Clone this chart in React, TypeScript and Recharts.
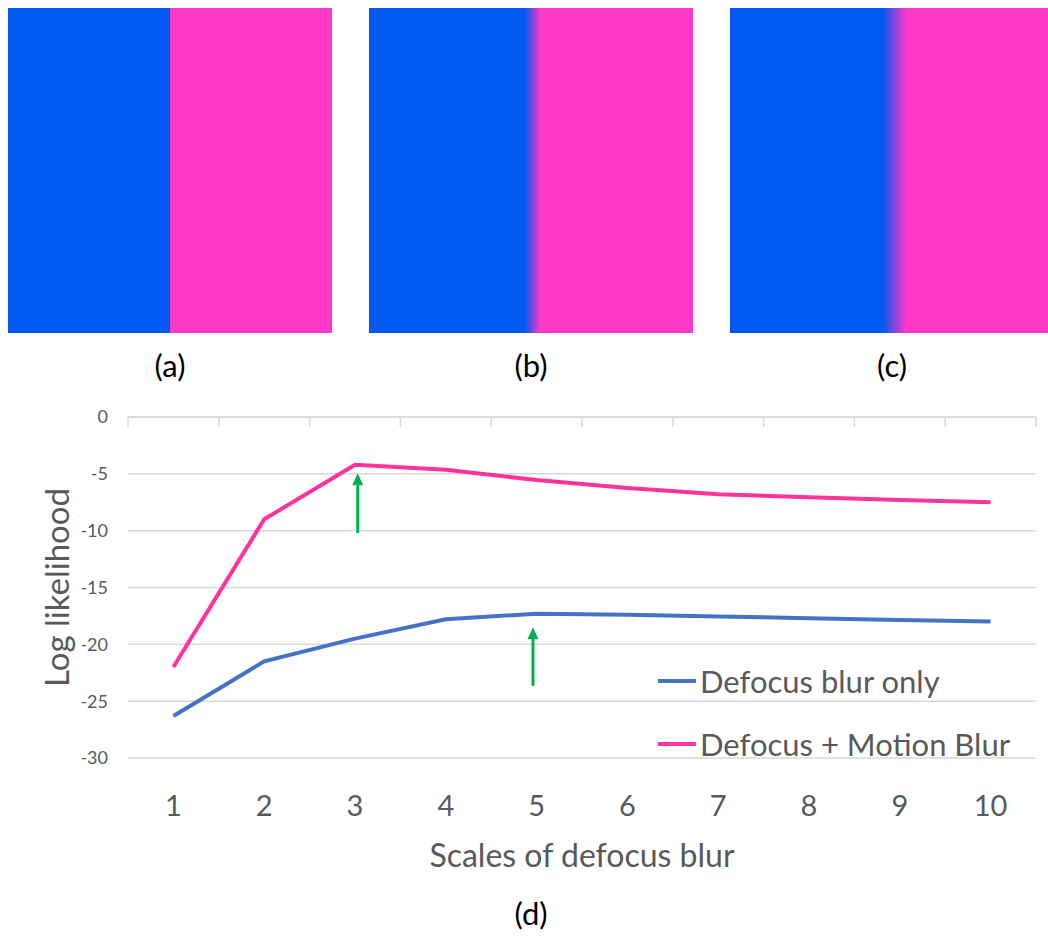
import React from 'react';
import { LineChart, Line, XAxis, YAxis, CartesianGrid, Legend, ReferenceLine } from 'recharts';

const scales = [1, 2, 3, 4, 5, 6, 7, 8, 9, 10];
const defocusOnly = [-26.3, -21.5, -19.5, -17.8, -17.3, -17.4, -17.55, -17.7, -17.85, -18.0];
const defocusMotion = [-22.0, -9.0, -4.2, -4.65, -5.55, -6.25, -6.8, -7.05, -7.3, -7.5];
const yTicks = [0, -5, -10, -15, -20, -25, -30];
// green arrows marking the peak of each curve (x, bottom, tip)
const arrows = [
  { x: 3.03, from: -10.2, to: -4.95 },
  { x: 4.96, from: -23.65, to: -18.5 },
];

const data = scales.map((s, i) => ({ x: s, only: defocusOnly[i], motion: defocusMotion[i] }));
// tick marks sit between the categories
const boundaries = [...scales.map(s => s - 0.5), scales[scales.length - 1] + 0.5];

const FONT = 'Lato, "Open Sans", sans-serif';
const GREY = '#595959';
const BLUE = '#0059F0';
const PINK = '#FF38C8';

const panels = [
  { left: 8, label: '(a)', bg: `linear-gradient(to right, ${BLUE} 50%, ${PINK} 50%)` },
  { left: 369, label: '(b)', bg: `linear-gradient(to right, ${BLUE} 48%, ${PINK} 53%)` },
  { left: 730, label: '(c)', bg: `linear-gradient(to right, ${BLUE} 47%, ${PINK} 54.5%)` },
];

const Arrow = (props: any) => {
  const { x1, y1, x2, y2 } = props;
  const head = 12;
  return (
    <g>
      <line x1={x1} y1={y1} x2={x2} y2={y2 + head - 1} stroke="#00B050" strokeWidth={3} />
      <polygon points={`${x2},${y2} ${x2 - 5.5},${y2 + head} ${x2 + 5.5},${y2 + head}`} fill="#00B050" />
    </g>
  );
};

const LegendContent = () => {
  const rows = [
    { name: 'Defocus blur only', color: '#4472C4' },
    { name: 'Defocus + Motion Blur', color: '#FF3399' },
  ];
  return (
    <div style={{ fontFamily: FONT }}>
      {rows.map(r => (
        <div key={r.name} style={{ display: 'flex', alignItems: 'center', height: 63 }}>
          <div style={{ width: 38, height: 4, background: r.color, marginRight: 4 }} />
          <span style={{ fontSize: 31, color: GREY, whiteSpace: 'nowrap' }}>{r.name}</span>
        </div>
      ))}
    </div>
  );
};

const App: React.FC = () => {
  return (
    <div style={{ position: 'absolute', left: 0, top: 0, width: 1048, height: 945, background: '#fff', overflow: 'hidden', fontFamily: FONT }}>
      {panels.map(p => (
        <React.Fragment key={p.label}>
          <div style={{ position: 'absolute', left: p.left, top: 8, width: 324, height: 325, background: p.bg }} />
          <div style={{ position: 'absolute', left: p.left, top: 346, width: 324, textAlign: 'center', fontSize: 31, color: '#000' }}>
            {p.label}
          </div>
        </React.Fragment>
      ))}
      <div style={{ position: 'absolute', left: 369, top: 894, width: 324, textAlign: 'center', fontSize: 31, color: '#000' }}>
        (d)
      </div>
      <div style={{ position: 'absolute', left: 0, top: 0 }}>
        <LineChart width={1048} height={945} data={data} margin={{ top: 417, right: 12, bottom: 67, left: 18 }}>
          <CartesianGrid vertical={false} stroke="#d9d9d9" strokeWidth={1.5} />
          <XAxis
            xAxisId="top"
            orientation="top"
            dataKey="x"
            type="number"
            domain={[0.5, 10.5]}
            allowDataOverflow
            ticks={boundaries}
            mirror
            tickSize={10}
            stroke="#d9d9d9"
            tickLine={{ stroke: '#d9d9d9', strokeWidth: 1.5 }}
            axisLine={{ stroke: '#d9d9d9', strokeWidth: 1.5 }}
            tickFormatter={() => ''}
          />
          <XAxis
            xAxisId="bottom"
            dataKey="x"
            type="number"
            domain={[0.5, 10.5]}
            allowDataOverflow
            ticks={scales}
            height={120}
            axisLine={false}
            tickLine={false}
            tickSize={0}
            tickMargin={37}
            tick={{ fontSize: 29, fill: GREY, fontFamily: FONT }}
            label={{ value: 'Scales of defocus blur', position: 'insideBottom', offset: 11, fontSize: 32, fill: GREY, fontFamily: FONT }}
          />
          <YAxis
            domain={[-30, 0]}
            ticks={yTicks}
            width={110}
            axisLine={false}
            tickLine={false}
            tickSize={0}
            tickMargin={20}
            tick={{ fontSize: 18, fill: GREY, fontFamily: FONT }}
            label={{ value: 'Log likelihood', angle: -90, position: 'insideLeft', offset: 39, fontSize: 33, fill: GREY, fontFamily: FONT, style: { textAnchor: 'middle' } }}
          />
          <Line xAxisId="bottom" type="linear" dataKey="only" name="Defocus blur only" stroke="#4472C4" strokeWidth={4} dot={false} isAnimationActive={false} />
          <Line xAxisId="bottom" type="linear" dataKey="motion" name="Defocus + Motion Blur" stroke="#FF3399" strokeWidth={4} dot={false} isAnimationActive={false} />
          {arrows.map((a, i) => (
            <ReferenceLine
              key={i}
              xAxisId="bottom"
              segment={[{ x: a.x, y: a.from }, { x: a.x, y: a.to }]}
              shape={Arrow}
            />
          ))}
          <Legend
            layout="vertical"
            align="center"
            verticalAlign="middle"
            content={<LegendContent />}
            wrapperStyle={{ left: 658, top: 649, width: 390 }}
          />
        </LineChart>
      </div>
    </div>
  );
};

export default App;
